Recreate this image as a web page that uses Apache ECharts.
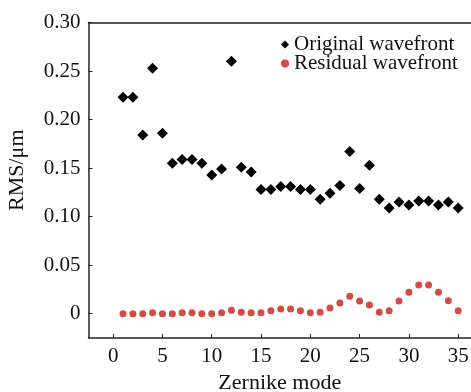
<!DOCTYPE html>
<html><head><meta charset="utf-8">
<script src="https://cdn.jsdelivr.net/npm/echarts@6/dist/echarts.min.js"></script>
<style>html,body{margin:0;padding:0;background:#fff}#c{width:471px;height:392px}</style>
</head><body><div id="c"></div>
<script>
const modes = Array.from({length: 35}, (_, i) => i + 1);
const original = [0.223,0.223,0.184,0.253,0.186,0.155,0.159,0.159,0.155,0.143,0.149,0.260,0.151,0.146,0.128,0.128,0.131,0.131,0.128,0.128,0.118,0.124,0.132,0.167,0.129,0.153,0.118,0.109,0.115,0.112,0.116,0.116,0.112,0.115,0.109];
const residual = [0.000,0.000,0.000,0.001,0.000,0.000,0.001,0.001,0.000,0.000,0.001,0.0035,0.0015,0.001,0.001,0.003,0.005,0.005,0.003,0.001,0.0015,0.006,0.011,0.018,0.013,0.009,0.0015,0.003,0.013,0.022,0.0295,0.0295,0.022,0.0135,0.003];
const xTicks = [0,5,10,15,20,25,30,35];
const yTicks = [0,0.05,0.10,0.15,0.20,0.25,0.30];

const font = '"Liberation Serif", "Times New Roman", serif';
const chart = echarts.init(document.getElementById('c'));
chart.setOption({
  animation: false,
  textStyle: {fontFamily: font},
  grid: {left: 88.5, right: 0, top: 22.5, bottom: 54, containLabel: false, outerBoundsMode: 'none'},
  legend: {
    orient: 'vertical', left: 276, top: 29, itemGap: -2,
    itemWidth: 8, itemHeight: 8,
    textStyle: {fontFamily: font, fontSize: 21, color: '#111', lineHeight: 20},
    data: [{name: 'Original wavefront', icon: 'diamond'}, {name: 'Residual wavefront', icon: 'circle'}]
  },
  xAxis: [{
    type: 'value', min: -2.5, max: 36.3, position: 'bottom',
    name: 'Zernike mode', nameLocation: 'middle', nameGap: 32,
    nameTextStyle: {fontFamily: font, fontSize: 22, color: '#111'},
    axisLine: {show: true, onZero: false, lineStyle: {color: '#222', width: 1.5}},
    axisTick: {show: true, inside: true, length: 4, customValues: xTicks, lineStyle: {color: '#222'}},
    axisLabel: {customValues: xTicks, fontFamily: font, fontSize: 21, color: '#111', margin: 8},
    splitLine: {show: false}
  }, {
    type: 'value', min: -2.5, max: 36.3, position: 'top',
    axisLine: {show: true, onZero: false, lineStyle: {color: '#222', width: 1.5}},
    axisTick: {show: false}, axisLabel: {show: false}, splitLine: {show: false}
  }],
  yAxis: {
    type: 'value', min: -0.025, max: 0.30,
    name: 'RMS/μm', nameLocation: 'middle', nameGap: 60,
    nameTextStyle: {fontFamily: font, fontSize: 22, color: '#111', padding: [0, 0, 0, 20]},
    axisLine: {show: true, onZero: false, lineStyle: {color: '#222', width: 1.5}},
    axisTick: {show: true, inside: true, length: 4, customValues: yTicks, lineStyle: {color: '#222'}},
    axisLabel: {customValues: yTicks, fontFamily: font, fontSize: 21, color: '#111', margin: 8,
      formatter: v => v === 0 ? '0' : v.toFixed(2)},
    splitLine: {show: false}
  },
  series: [{
    name: 'Original wavefront', type: 'scatter', symbol: 'diamond', symbolSize: 11,
    itemStyle: {color: '#000', opacity: 1},
    data: modes.map((m, i) => [m, original[i]])
  }, {
    name: 'Residual wavefront', type: 'scatter', symbol: 'circle', symbolSize: 7,
    itemStyle: {color: '#d14b47', opacity: 1},
    data: modes.map((m, i) => [m, residual[i]])
  }]
});
</script></body></html>
